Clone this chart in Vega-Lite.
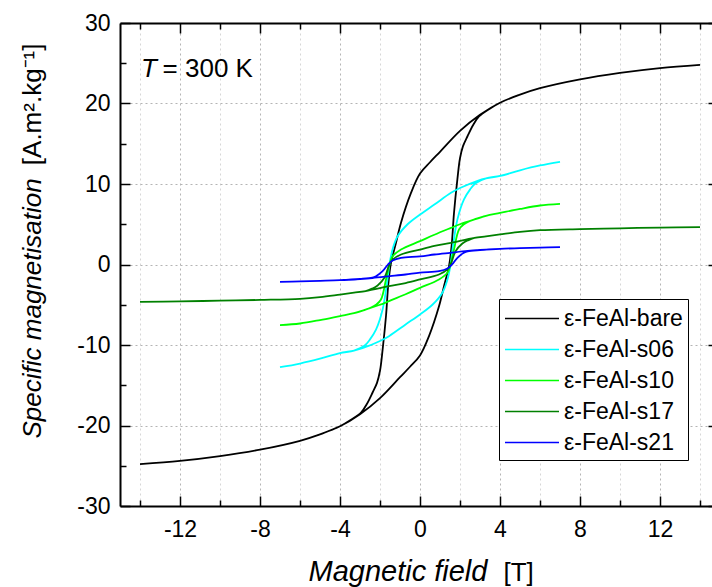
{
  "$schema": "https://vega.github.io/schema/vega-lite/v6.json",
  "autosize": {"type": "none"},
  "padding": {"left": 120, "top": 23, "right": 0, "bottom": 81},
  "width": 592,
  "height": 483,
  "background": "white",
  "config": {
    "view": {"stroke": null},
    "font": "Liberation Sans",
    "axis": {"labelFont": "Liberation Sans", "titleFont": "Liberation Sans", "labelColor": "black", "titleColor": "black", "titleFontWeight": "normal", "labelFontSize": 23, "titleFontSize": 26, "domainColor": "black", "domainWidth": 2, "tickColor": "black", "tickWidth": 1.5}
  },
  "resolve": {"axis": {"x": "independent", "y": "independent"}},
  "layer": [
    {
      "data": {"values": [
        {"s":"ε-FeAl-bare","i":0,"H":14,"M":24.8},{"s":"ε-FeAl-bare","i":1,"H":12,"M":24.4},{"s":"ε-FeAl-bare","i":2,"H":10,"M":23.8},{"s":"ε-FeAl-bare","i":3,"H":8,"M":23.0},{"s":"ε-FeAl-bare","i":4,"H":6,"M":21.9},{"s":"ε-FeAl-bare","i":5,"H":5,"M":21.1},{"s":"ε-FeAl-bare","i":6,"H":4,"M":20.1},{"s":"ε-FeAl-bare","i":7,"H":3,"M":18.6},{"s":"ε-FeAl-bare","i":8,"H":2,"M":16.6},{"s":"ε-FeAl-bare","i":9,"H":1,"M":14.0},{"s":"ε-FeAl-bare","i":10,"H":0.5,"M":12.7},{"s":"ε-FeAl-bare","i":11,"H":0,"M":11.3},{"s":"ε-FeAl-bare","i":12,"H":-0.45,"M":8.9},{"s":"ε-FeAl-bare","i":13,"H":-0.95,"M":5.2},{"s":"ε-FeAl-bare","i":14,"H":-1.2,"M":2.7},{"s":"ε-FeAl-bare","i":15,"H":-1.45,"M":0.2},{"s":"ε-FeAl-bare","i":16,"H":-1.58,"M":-2.3},{"s":"ε-FeAl-bare","i":17,"H":-1.7,"M":-6.4},{"s":"ε-FeAl-bare","i":18,"H":-1.87,"M":-10.6},{"s":"ε-FeAl-bare","i":19,"H":-2.0,"M":-13.2},{"s":"ε-FeAl-bare","i":20,"H":-2.15,"M":-14.7},{"s":"ε-FeAl-bare","i":21,"H":-2.37,"M":-15.9},{"s":"ε-FeAl-bare","i":22,"H":-2.65,"M":-17.3},{"s":"ε-FeAl-bare","i":23,"H":-2.95,"M":-18.4},{"s":"ε-FeAl-bare","i":24,"H":-3.45,"M":-19.3},{"s":"ε-FeAl-bare","i":25,"H":-4,"M":-20.1},{"s":"ε-FeAl-bare","i":26,"H":-5,"M":-21.1},{"s":"ε-FeAl-bare","i":27,"H":-6,"M":-21.9},{"s":"ε-FeAl-bare","i":28,"H":-8,"M":-23.0},{"s":"ε-FeAl-bare","i":29,"H":-10,"M":-23.8},{"s":"ε-FeAl-bare","i":30,"H":-12,"M":-24.4},{"s":"ε-FeAl-bare","i":31,"H":-14,"M":-24.8},
        {"s":"ε-FeAl-bare","i":32,"H":-14,"M":-24.8},{"s":"ε-FeAl-bare","i":33,"H":-12,"M":-24.4},{"s":"ε-FeAl-bare","i":34,"H":-10,"M":-23.8},{"s":"ε-FeAl-bare","i":35,"H":-8,"M":-23.0},{"s":"ε-FeAl-bare","i":36,"H":-6,"M":-21.9},{"s":"ε-FeAl-bare","i":37,"H":-5,"M":-21.1},{"s":"ε-FeAl-bare","i":38,"H":-4,"M":-20.1},{"s":"ε-FeAl-bare","i":39,"H":-3,"M":-18.6},{"s":"ε-FeAl-bare","i":40,"H":-2,"M":-16.6},{"s":"ε-FeAl-bare","i":41,"H":-1,"M":-14.0},{"s":"ε-FeAl-bare","i":42,"H":-0.5,"M":-12.7},{"s":"ε-FeAl-bare","i":43,"H":0,"M":-11.3},{"s":"ε-FeAl-bare","i":44,"H":0.45,"M":-8.9},{"s":"ε-FeAl-bare","i":45,"H":0.95,"M":-5.2},{"s":"ε-FeAl-bare","i":46,"H":1.2,"M":-2.7},{"s":"ε-FeAl-bare","i":47,"H":1.45,"M":-0.2},{"s":"ε-FeAl-bare","i":48,"H":1.58,"M":2.3},{"s":"ε-FeAl-bare","i":49,"H":1.7,"M":6.4},{"s":"ε-FeAl-bare","i":50,"H":1.87,"M":10.6},{"s":"ε-FeAl-bare","i":51,"H":2.0,"M":13.2},{"s":"ε-FeAl-bare","i":52,"H":2.15,"M":14.7},{"s":"ε-FeAl-bare","i":53,"H":2.37,"M":15.9},{"s":"ε-FeAl-bare","i":54,"H":2.65,"M":17.3},{"s":"ε-FeAl-bare","i":55,"H":2.95,"M":18.4},{"s":"ε-FeAl-bare","i":56,"H":3.45,"M":19.3},{"s":"ε-FeAl-bare","i":57,"H":4,"M":20.1},{"s":"ε-FeAl-bare","i":58,"H":5,"M":21.1},{"s":"ε-FeAl-bare","i":59,"H":6,"M":21.9},{"s":"ε-FeAl-bare","i":60,"H":8,"M":23.0},{"s":"ε-FeAl-bare","i":61,"H":10,"M":23.8},{"s":"ε-FeAl-bare","i":62,"H":12,"M":24.4},{"s":"ε-FeAl-bare","i":63,"H":14,"M":24.8},

        {"s":"ε-FeAl-s06","i":0,"H":7,"M":12.76},{"s":"ε-FeAl-s06","i":1,"H":6,"M":12.3},{"s":"ε-FeAl-s06","i":2,"H":5,"M":11.7},{"s":"ε-FeAl-s06","i":3,"H":4,"M":11.0},{"s":"ε-FeAl-s06","i":4,"H":3.3,"M":10.7},{"s":"ε-FeAl-s06","i":5,"H":2.88,"M":10.4},{"s":"ε-FeAl-s06","i":6,"H":2.0,"M":9.5},{"s":"ε-FeAl-s06","i":7,"H":1.55,"M":8.9},{"s":"ε-FeAl-s06","i":8,"H":0.72,"M":7.45},{"s":"ε-FeAl-s06","i":9,"H":0,"M":6.2},{"s":"ε-FeAl-s06","i":10,"H":-0.62,"M":5.0},{"s":"ε-FeAl-s06","i":11,"H":-1.12,"M":3.5},{"s":"ε-FeAl-s06","i":12,"H":-1.37,"M":1.9},{"s":"ε-FeAl-s06","i":13,"H":-1.53,"M":0},{"s":"ε-FeAl-s06","i":14,"H":-1.65,"M":-2.3},{"s":"ε-FeAl-s06","i":15,"H":-1.87,"M":-5.6},{"s":"ε-FeAl-s06","i":16,"H":-2.2,"M":-8.1},{"s":"ε-FeAl-s06","i":17,"H":-2.5,"M":-9.3},{"s":"ε-FeAl-s06","i":18,"H":-2.78,"M":-10.1},{"s":"ε-FeAl-s06","i":19,"H":-3.3,"M":-10.7},{"s":"ε-FeAl-s06","i":20,"H":-4,"M":-11.0},{"s":"ε-FeAl-s06","i":21,"H":-5,"M":-11.7},{"s":"ε-FeAl-s06","i":22,"H":-6,"M":-12.3},{"s":"ε-FeAl-s06","i":23,"H":-7,"M":-12.76},
        {"s":"ε-FeAl-s06","i":24,"H":-7,"M":-12.76},{"s":"ε-FeAl-s06","i":25,"H":-6,"M":-12.3},{"s":"ε-FeAl-s06","i":26,"H":-5,"M":-11.7},{"s":"ε-FeAl-s06","i":27,"H":-4,"M":-11.0},{"s":"ε-FeAl-s06","i":28,"H":-3.3,"M":-10.7},{"s":"ε-FeAl-s06","i":29,"H":-2.88,"M":-10.4},{"s":"ε-FeAl-s06","i":30,"H":-2.0,"M":-9.5},{"s":"ε-FeAl-s06","i":31,"H":-1.55,"M":-8.9},{"s":"ε-FeAl-s06","i":32,"H":-0.72,"M":-7.45},{"s":"ε-FeAl-s06","i":33,"H":0,"M":-6.2},{"s":"ε-FeAl-s06","i":34,"H":0.62,"M":-5.0},{"s":"ε-FeAl-s06","i":35,"H":1.12,"M":-3.5},{"s":"ε-FeAl-s06","i":36,"H":1.37,"M":-1.9},{"s":"ε-FeAl-s06","i":37,"H":1.53,"M":0},{"s":"ε-FeAl-s06","i":38,"H":1.65,"M":2.3},{"s":"ε-FeAl-s06","i":39,"H":1.87,"M":5.6},{"s":"ε-FeAl-s06","i":40,"H":2.2,"M":8.1},{"s":"ε-FeAl-s06","i":41,"H":2.5,"M":9.3},{"s":"ε-FeAl-s06","i":42,"H":2.78,"M":10.1},{"s":"ε-FeAl-s06","i":43,"H":3.3,"M":10.7},{"s":"ε-FeAl-s06","i":44,"H":4,"M":11.0},{"s":"ε-FeAl-s06","i":45,"H":5,"M":11.7},{"s":"ε-FeAl-s06","i":46,"H":6,"M":12.3},{"s":"ε-FeAl-s06","i":47,"H":7,"M":12.76},

        {"s":"ε-FeAl-s10","i":0,"H":7,"M":7.54},{"s":"ε-FeAl-s10","i":1,"H":6,"M":7.33},{"s":"ε-FeAl-s10","i":2,"H":5,"M":6.9},{"s":"ε-FeAl-s10","i":3,"H":4,"M":6.4},{"s":"ε-FeAl-s10","i":4,"H":3.3,"M":6.05},{"s":"ε-FeAl-s10","i":5,"H":2.72,"M":5.6},{"s":"ε-FeAl-s10","i":6,"H":2.0,"M":5.0},{"s":"ε-FeAl-s10","i":7,"H":1.55,"M":4.55},{"s":"ε-FeAl-s10","i":8,"H":0.72,"M":3.7},{"s":"ε-FeAl-s10","i":9,"H":0,"M":2.9},{"s":"ε-FeAl-s10","i":10,"H":-0.95,"M":1.86},{"s":"ε-FeAl-s10","i":11,"H":-1.37,"M":1.03},{"s":"ε-FeAl-s10","i":12,"H":-1.53,"M":0},{"s":"ε-FeAl-s10","i":13,"H":-1.7,"M":-1.86},{"s":"ε-FeAl-s10","i":14,"H":-1.95,"M":-4.35},{"s":"ε-FeAl-s10","i":15,"H":-2.2,"M":-5.0},{"s":"ε-FeAl-s10","i":16,"H":-2.45,"M":-5.35},{"s":"ε-FeAl-s10","i":17,"H":-2.72,"M":-5.6},{"s":"ε-FeAl-s10","i":18,"H":-3.3,"M":-6.05},{"s":"ε-FeAl-s10","i":19,"H":-4,"M":-6.4},{"s":"ε-FeAl-s10","i":20,"H":-5,"M":-6.9},{"s":"ε-FeAl-s10","i":21,"H":-6,"M":-7.33},{"s":"ε-FeAl-s10","i":22,"H":-7,"M":-7.54},
        {"s":"ε-FeAl-s10","i":23,"H":-7,"M":-7.54},{"s":"ε-FeAl-s10","i":24,"H":-6,"M":-7.33},{"s":"ε-FeAl-s10","i":25,"H":-5,"M":-6.9},{"s":"ε-FeAl-s10","i":26,"H":-4,"M":-6.4},{"s":"ε-FeAl-s10","i":27,"H":-3.3,"M":-6.05},{"s":"ε-FeAl-s10","i":28,"H":-2.72,"M":-5.6},{"s":"ε-FeAl-s10","i":29,"H":-2.0,"M":-5.0},{"s":"ε-FeAl-s10","i":30,"H":-1.55,"M":-4.55},{"s":"ε-FeAl-s10","i":31,"H":-0.72,"M":-3.7},{"s":"ε-FeAl-s10","i":32,"H":0,"M":-2.9},{"s":"ε-FeAl-s10","i":33,"H":0.95,"M":-1.86},{"s":"ε-FeAl-s10","i":34,"H":1.37,"M":-1.03},{"s":"ε-FeAl-s10","i":35,"H":1.53,"M":0},{"s":"ε-FeAl-s10","i":36,"H":1.7,"M":1.86},{"s":"ε-FeAl-s10","i":37,"H":1.95,"M":4.35},{"s":"ε-FeAl-s10","i":38,"H":2.2,"M":5.0},{"s":"ε-FeAl-s10","i":39,"H":2.45,"M":5.35},{"s":"ε-FeAl-s10","i":40,"H":2.72,"M":5.6},{"s":"ε-FeAl-s10","i":41,"H":3.3,"M":6.05},{"s":"ε-FeAl-s10","i":42,"H":4,"M":6.4},{"s":"ε-FeAl-s10","i":43,"H":5,"M":6.9},{"s":"ε-FeAl-s10","i":44,"H":6,"M":7.33},{"s":"ε-FeAl-s10","i":45,"H":7,"M":7.54},

        {"s":"ε-FeAl-s17","i":0,"H":14,"M":4.64},{"s":"ε-FeAl-s17","i":1,"H":12,"M":4.58},{"s":"ε-FeAl-s17","i":2,"H":10,"M":4.5},{"s":"ε-FeAl-s17","i":3,"H":8,"M":4.4},{"s":"ε-FeAl-s17","i":4,"H":6,"M":4.26},{"s":"ε-FeAl-s17","i":5,"H":5,"M":4.05},{"s":"ε-FeAl-s17","i":6,"H":4,"M":3.73},{"s":"ε-FeAl-s17","i":7,"H":3.3,"M":3.5},{"s":"ε-FeAl-s17","i":8,"H":2.72,"M":3.3},{"s":"ε-FeAl-s17","i":9,"H":1.55,"M":2.7},{"s":"ε-FeAl-s17","i":10,"H":0.72,"M":2.3},{"s":"ε-FeAl-s17","i":11,"H":0,"M":1.86},{"s":"ε-FeAl-s17","i":12,"H":-0.95,"M":1.24},{"s":"ε-FeAl-s17","i":13,"H":-1.37,"M":0.6},{"s":"ε-FeAl-s17","i":14,"H":-1.53,"M":0},{"s":"ε-FeAl-s17","i":15,"H":-1.78,"M":-1.65},{"s":"ε-FeAl-s17","i":16,"H":-2.12,"M":-2.6},{"s":"ε-FeAl-s17","i":17,"H":-2.4,"M":-3.0},{"s":"ε-FeAl-s17","i":18,"H":-2.72,"M":-3.3},{"s":"ε-FeAl-s17","i":19,"H":-3.3,"M":-3.5},{"s":"ε-FeAl-s17","i":20,"H":-4,"M":-3.73},{"s":"ε-FeAl-s17","i":21,"H":-5,"M":-4.05},{"s":"ε-FeAl-s17","i":22,"H":-6,"M":-4.26},{"s":"ε-FeAl-s17","i":23,"H":-8,"M":-4.4},{"s":"ε-FeAl-s17","i":24,"H":-10,"M":-4.5},{"s":"ε-FeAl-s17","i":25,"H":-12,"M":-4.58},{"s":"ε-FeAl-s17","i":26,"H":-14,"M":-4.64},
        {"s":"ε-FeAl-s17","i":27,"H":-14,"M":-4.64},{"s":"ε-FeAl-s17","i":28,"H":-12,"M":-4.58},{"s":"ε-FeAl-s17","i":29,"H":-10,"M":-4.5},{"s":"ε-FeAl-s17","i":30,"H":-8,"M":-4.4},{"s":"ε-FeAl-s17","i":31,"H":-6,"M":-4.26},{"s":"ε-FeAl-s17","i":32,"H":-5,"M":-4.05},{"s":"ε-FeAl-s17","i":33,"H":-4,"M":-3.73},{"s":"ε-FeAl-s17","i":34,"H":-3.3,"M":-3.5},{"s":"ε-FeAl-s17","i":35,"H":-2.72,"M":-3.3},{"s":"ε-FeAl-s17","i":36,"H":-1.55,"M":-2.7},{"s":"ε-FeAl-s17","i":37,"H":-0.72,"M":-2.3},{"s":"ε-FeAl-s17","i":38,"H":0,"M":-1.86},{"s":"ε-FeAl-s17","i":39,"H":0.95,"M":-1.24},{"s":"ε-FeAl-s17","i":40,"H":1.37,"M":-0.6},{"s":"ε-FeAl-s17","i":41,"H":1.53,"M":0},{"s":"ε-FeAl-s17","i":42,"H":1.78,"M":1.65},{"s":"ε-FeAl-s17","i":43,"H":2.12,"M":2.6},{"s":"ε-FeAl-s17","i":44,"H":2.4,"M":3.0},{"s":"ε-FeAl-s17","i":45,"H":2.72,"M":3.3},{"s":"ε-FeAl-s17","i":46,"H":3.3,"M":3.5},{"s":"ε-FeAl-s17","i":47,"H":4,"M":3.73},{"s":"ε-FeAl-s17","i":48,"H":5,"M":4.05},{"s":"ε-FeAl-s17","i":49,"H":6,"M":4.26},{"s":"ε-FeAl-s17","i":50,"H":8,"M":4.4},{"s":"ε-FeAl-s17","i":51,"H":10,"M":4.5},{"s":"ε-FeAl-s17","i":52,"H":12,"M":4.58},{"s":"ε-FeAl-s17","i":53,"H":14,"M":4.64},

        {"s":"ε-FeAl-s21","i":0,"H":7,"M":2.17},{"s":"ε-FeAl-s21","i":1,"H":6,"M":2.1},{"s":"ε-FeAl-s21","i":2,"H":5,"M":2.03},{"s":"ε-FeAl-s21","i":3,"H":4,"M":1.95},{"s":"ε-FeAl-s21","i":4,"H":3,"M":1.8},{"s":"ε-FeAl-s21","i":5,"H":2.38,"M":1.68},{"s":"ε-FeAl-s21","i":6,"H":1.5,"M":1.45},{"s":"ε-FeAl-s21","i":7,"H":0.72,"M":1.24},{"s":"ε-FeAl-s21","i":8,"H":0,"M":1.0},{"s":"ε-FeAl-s21","i":9,"H":-0.95,"M":0.83},{"s":"ε-FeAl-s21","i":10,"H":-1.37,"M":0.5},{"s":"ε-FeAl-s21","i":11,"H":-1.6,"M":0},{"s":"ε-FeAl-s21","i":12,"H":-1.87,"M":-0.83},{"s":"ε-FeAl-s21","i":13,"H":-2.2,"M":-1.45},{"s":"ε-FeAl-s21","i":14,"H":-2.38,"M":-1.63},{"s":"ε-FeAl-s21","i":15,"H":-3,"M":-1.8},{"s":"ε-FeAl-s21","i":16,"H":-4,"M":-1.95},{"s":"ε-FeAl-s21","i":17,"H":-5,"M":-2.03},{"s":"ε-FeAl-s21","i":18,"H":-6,"M":-2.1},{"s":"ε-FeAl-s21","i":19,"H":-7,"M":-2.17},
        {"s":"ε-FeAl-s21","i":20,"H":-7,"M":-2.17},{"s":"ε-FeAl-s21","i":21,"H":-6,"M":-2.1},{"s":"ε-FeAl-s21","i":22,"H":-5,"M":-2.03},{"s":"ε-FeAl-s21","i":23,"H":-4,"M":-1.95},{"s":"ε-FeAl-s21","i":24,"H":-3,"M":-1.8},{"s":"ε-FeAl-s21","i":25,"H":-2.38,"M":-1.68},{"s":"ε-FeAl-s21","i":26,"H":-1.5,"M":-1.45},{"s":"ε-FeAl-s21","i":27,"H":-0.72,"M":-1.24},{"s":"ε-FeAl-s21","i":28,"H":0,"M":-1.0},{"s":"ε-FeAl-s21","i":29,"H":0.95,"M":-0.83},{"s":"ε-FeAl-s21","i":30,"H":1.37,"M":-0.5},{"s":"ε-FeAl-s21","i":31,"H":1.6,"M":0},{"s":"ε-FeAl-s21","i":32,"H":1.87,"M":0.83},{"s":"ε-FeAl-s21","i":33,"H":2.2,"M":1.45},{"s":"ε-FeAl-s21","i":34,"H":2.38,"M":1.63},{"s":"ε-FeAl-s21","i":35,"H":3,"M":1.8},{"s":"ε-FeAl-s21","i":36,"H":4,"M":1.95},{"s":"ε-FeAl-s21","i":37,"H":5,"M":2.03},{"s":"ε-FeAl-s21","i":38,"H":6,"M":2.1},{"s":"ε-FeAl-s21","i":39,"H":7,"M":2.17}
      ]},
      "mark": {"type": "line", "strokeWidth": 1.8, "interpolate": "catmull-rom", "clip": true},
      "encoding": {
        "x": {"field": "H", "type": "quantitative",
          "scale": {"domain": [-15, 14.6], "nice": false, "zero": false},
          "axis": {"orient": "bottom", "values": [-14,-12,-10,-8,-6,-4,-2,0,2,4,6,8,10,12,14],
            "labelExpr": "datum.value % 4 === 0 ? '' + datum.value : ''",
            "tickSize": {"condition": {"test": "datum.value % 4 === 0", "value": -10}, "value": -6},
            "labelPadding": 22, "labelFlush": false, "labelOverlap": false,
            "grid": true, "gridDash": [2, 3], "gridWidth": 1,
            "gridColor": {"condition": {"test": "datum.value % 4 === 0", "value": "#b4b4b4"}, "value": "#d6d6d6"},
            "title": "Magnetic field", "titleFontSize": 29, "titleFontStyle": "italic", "titleX": 188, "titleY": 74, "titleAlign": "left", "titleBaseline": "alphabetic"}},
        "y": {"field": "M", "type": "quantitative",
          "scale": {"domain": [-30, 30], "nice": false},
          "axis": {"orient": "left", "values": [-30,-25,-20,-15,-10,-5,0,5,10,15,20,25,30],
            "labelExpr": "datum.value % 10 === 0 ? '' + datum.value : ''",
            "tickSize": {"condition": {"test": "datum.value % 10 === 0", "value": -10}, "value": -6},
            "labelPadding": 20, "labelFlush": false, "labelOverlap": false,
            "grid": true, "gridDash": [2, 3], "gridWidth": 1, "gridColor": "#b4b4b4",
            "gridOpacity": {"condition": {"test": "datum.value % 10 === 0 && abs(datum.value) < 30", "value": 1}, "value": 0},
            "title": "Specific magnetisation", "titleFontStyle": "italic", "titleAngle": 270, "titleX": -80, "titleY": 415, "titleAlign": "left", "titleBaseline": "alphabetic"}},
        "color": {"field": "s", "type": "nominal",
          "scale": {"domain": ["ε-FeAl-bare","ε-FeAl-s06","ε-FeAl-s10","ε-FeAl-s17","ε-FeAl-s21"], "range": ["#000000","#00FFFF","#00FF00","#008000","#0000FF"]},
          "legend": {"orient": "none", "legendX": 379, "legendY": 276, "title": null, "symbolType": "M-1,0H3", "symbolSize": 729, "symbolStrokeWidth": 1.5, "labelFontSize": 23, "labelFont": "Liberation Sans", "labelColor": "black", "labelOffset": 31, "rowPadding": 4, "padding": 5, "strokeColor": "black", "fillColor": "white", "labelLimit": 300}},
        "order": {"field": "i", "type": "quantitative"}
      }
    },
    {
      "mark": {"type": "rule", "color": "black", "strokeWidth": 2},
      "encoding": {
        "y": {"datum": 0, "type": "quantitative",
          "axis": {"orient": "right", "offset": 6, "values": [-30,-25,-20,-15,-10,-5,0,5,10,15,20,25,30], "labels": false, "grid": false, "title": null,
            "tickSize": {"condition": {"test": "datum.value % 10 === 0", "value": -10}, "value": -6}}}
      }
    },
    {
      "mark": {"type": "rule", "color": "black", "strokeWidth": 2},
      "encoding": {
        "x": {"datum": 0, "type": "quantitative",
          "axis": {"orient": "top", "values": [-14,-12,-10,-8,-6,-4,-2,0,2,4,6,8,10,12,14], "labels": false, "grid": false, "title": null,
            "tickSize": {"condition": {"test": "datum.value % 4 === 0", "value": -10}, "value": -6}}}
      }
    },
    {
      "data": {"values": [{}]},
      "mark": {"type": "text", "fontSize": 26, "fontStyle": "italic", "font": "Liberation Sans", "align": "left", "baseline": "alphabetic", "fill": "black"},
      "encoding": {
        "text": {"value": "T"},
        "x": {"datum": -13.95, "type": "quantitative",
          "axis": {"orient": "bottom", "domain": false, "ticks": false, "labels": false, "grid": false, "title": "[T]", "titleFontStyle": "normal", "titleX": 383, "titleY": 74, "titleAlign": "left", "titleBaseline": "alphabetic"}},
        "y": {"datum": 23.35, "type": "quantitative",
          "axis": {"orient": "left", "domain": false, "ticks": false, "labels": false, "grid": false, "title": "[A.m².kg⁻¹]", "titleFontStyle": "normal", "titleAngle": 270, "titleX": -80, "titleY": 20, "titleAlign": "right", "titleBaseline": "alphabetic"}}
      }
    },
    {
      "data": {"values": [{}]},
      "mark": {"type": "text", "fontSize": 26, "font": "Liberation Sans", "align": "left", "baseline": "alphabetic", "fill": "black"},
      "encoding": {
        "text": {"value": "= 300 K"},
        "x": {"datum": -12.87, "type": "quantitative", "axis": null},
        "y": {"datum": 23.35, "type": "quantitative", "axis": null}
      }
    }
  ]
}
